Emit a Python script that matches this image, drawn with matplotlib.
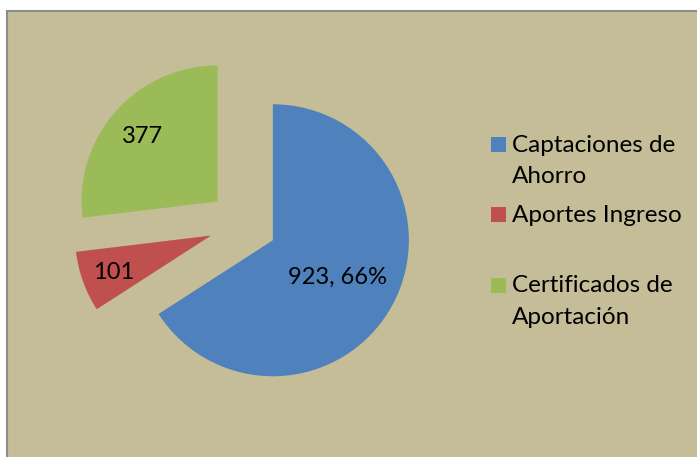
import numpy as np
import matplotlib
matplotlib.use("Agg")
import matplotlib.pyplot as plt
from matplotlib.patches import Rectangle

# Data
labels = ["Captaciones de\nAhorro", "Aportes Ingreso", "Certificados de\nAportación"]
values = [923, 101, 377]
colors = ["#4F81BD", "#C0504D", "#9BBB59"]
label_dist = [0.54, 0.76, 0.74]   # where Excel put the data labels

W, H = 697, 457
plt.rcParams['font.family'] = ['Lato', 'DejaVu Sans']

fig = plt.figure(figsize=(W / 100, H / 100), dpi=100)
fig.patch.set_facecolor("white")


def px(x, y):
    return x / W, 1 - y / H


# chart area background with the grey frame
fig.add_artist(Rectangle(px(6.5, H + 5), 1, (H - 10.5 + 5) / H,
                         transform=fig.transFigure, facecolor="#C4BD97",
                         edgecolor="#8C8C8C", linewidth=1.5, zorder=-1))

ax = fig.add_axes([0, 0, 1, 1])
ax.set_facecolor("none")
ax.axis("off")

r_px = 136.0
cx, cy = 243.0, 224.0
wedges, _ = ax.pie(values, colors=colors, startangle=90, counterclock=False,
                   explode=[0.25] * len(values), radius=1.0,
                   wedgeprops=dict(linewidth=0))
ax.set_aspect("auto")
ax.set_xlim(-cx / r_px, (W - cx) / r_px)
ax.set_ylim(-(H - cy) / r_px, cy / r_px)

total = sum(values)
for i, w in enumerate(wedges):
    mid = np.deg2rad((w.theta1 + w.theta2) / 2)
    x0, y0 = w.center
    d = label_dist[i]
    txt = str(values[i])
    if i == 0:
        txt = f"{values[i]}, {round(values[i] / total * 100)}%"
    ax.text(x0 + d * np.cos(mid), y0 + d * np.sin(mid), txt,
            ha="center", va="center_baseline", fontsize=17, color="black")

# legend on the right, one text per line so the spacing matches Excel
sq_top = [137, 207, 278]
first_base = [152, 222, 292]
line_step = 31.5
for i, lab in enumerate(labels):
    fig.add_artist(Rectangle(px(491, sq_top[i] + 15), 15 / W, 15 / H,
                             transform=fig.transFigure, facecolor=colors[i],
                             edgecolor="none"))
    for k, line in enumerate(lab.split("\n")):
        fig.text(*px(512, first_base[i] + k * line_step), line,
                 ha="left", va="baseline", fontsize=17.5, color="black")

fig.savefig("out.png", dpi=100)
